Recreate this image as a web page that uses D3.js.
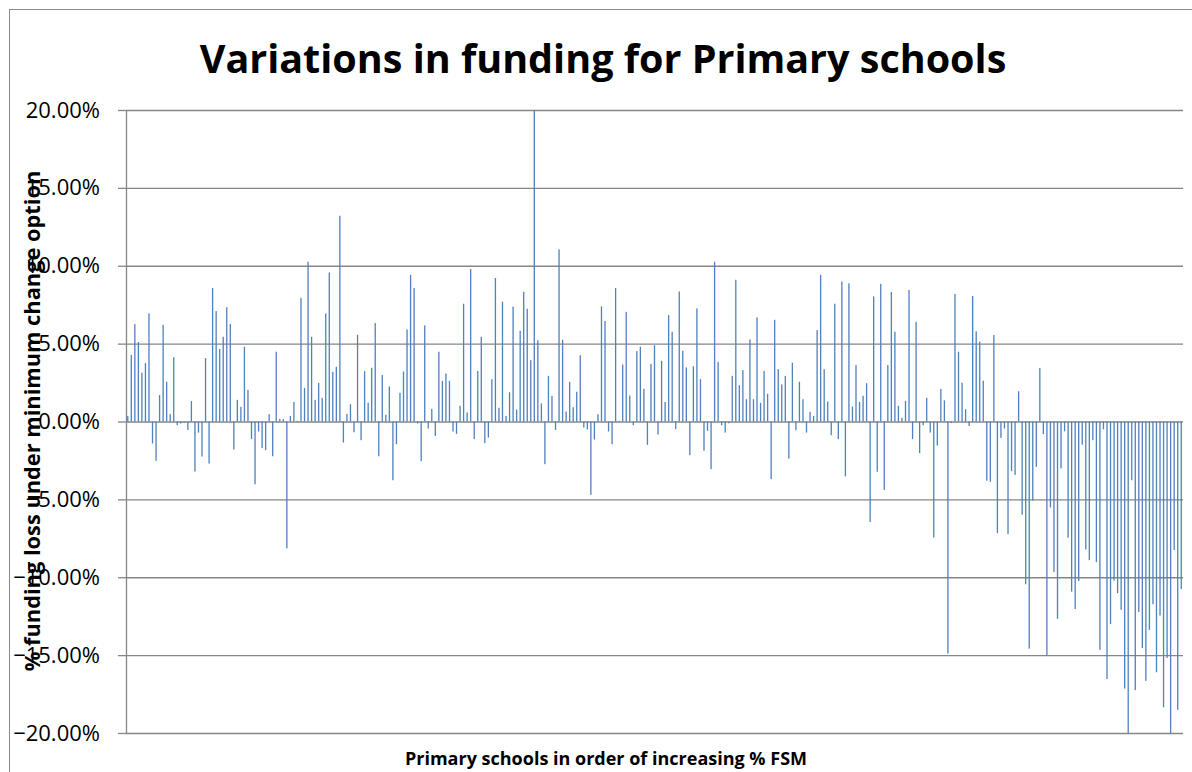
<!DOCTYPE html>
<html>
<head>
<meta charset="utf-8">
<script src="https://cdn.jsdelivr.net/npm/d3@7"></script>
<style>
    body { margin: 0; background: #fff; }
    svg { display: block; font-family: "Open Sans", "Noto Sans", sans-serif; }
</style>
</head>
<body>
<div id="chart"></div>
<script>
// chart text
var chartTitle = "Variations in funding for Primary schools"
var yTitle = "% funding loss under minimum change option"
var xTitle = "Primary schools in order of increasing % FSM"

// y axis ticks (percent)
var yTicks = [20, 15, 10, 5, 0, -5, -10, -15, -20]

// % funding change per school, schools in order of increasing % FSM
var funding = [
    0.36, 4.28, 6.25, 5.10, 3.13, 3.75, 6.94, -1.41, -2.53, 1.69,
    6.21, 2.55, 0.47, 4.13, -0.24, -0.13, -0.05, -0.54, 1.31, -3.21,
    -0.71, -2.25, 4.07, -2.70, 8.57, 7.09, 4.65, 5.44, 7.34, 6.27,
    -1.80, 1.39, 0.94, 4.80, 2.03, -1.13, -4.03, -0.64, -1.71, -1.84,
    0.47, -2.23, 4.48, 0.17, 0.15, -8.14, 0.36, 1.26, 0.05, 7.94,
    2.16, 10.26, 5.44, 1.39, 2.48, 1.52, 6.94, 9.57, 3.19, 3.51,
    13.21, -1.35, 0.49, 1.11, -0.69, 5.57, -1.20, 3.23, 1.20, 3.45,
    6.32, -2.23, 2.98, 0.43, 2.25, -3.77, -1.46, 1.84, 3.21, 5.91,
    9.42, 8.57, -0.13, -2.55, 6.17, -0.45, 0.81, -0.92, 4.48, 2.61,
    3.08, 2.61, -0.64, -0.79, 1.01, 7.56, 0.58, 9.79, -1.13, 3.25,
    5.44, -1.39, -1.03, 2.72, 9.21, 0.88, 7.69, 0.36, 1.88, 7.37,
    0.77, 5.82, 8.33, 7.24, 3.94, 20.00, 5.22, 1.16, -2.74, 2.93,
    1.65, -0.54, 11.05, 5.25, 0.64, 2.55, 0.92, 1.91, 4.26, -0.39,
    -0.51, -4.71, -1.16, 0.47, 7.39, 6.45, -0.64, -1.46, 8.57, 0.05,
    3.66, 7.04, 1.67, -0.24, 4.52, 4.80, 2.10, -1.50, 3.70, 4.90,
    -0.84, 3.90, 1.26, 6.83, 5.76, -0.49, 8.35, 4.54, 3.47, -2.16,
    3.55, 7.26, 2.72, -1.88, -0.60, -3.06, 10.26, 3.83, -0.24, -0.71,
    -0.11, 2.93, 9.10, 2.33, 3.30, 1.43, 5.27, 1.43, 6.68, 1.20,
    3.25, 1.78, -3.70, 6.53, 3.36, 2.38, 2.93, -2.38, 3.77, -0.56,
    2.55, 1.43, -0.71, 0.62, 0.36, 5.87, 9.42, 3.36, 1.28, -0.88,
    7.56, -1.13, 8.99, -3.53, 8.87, 0.96, 3.62, 1.26, 1.65, 2.46,
    -6.45, 8.03, -3.23, 8.84, -4.39, 3.62, 8.31, 5.76, 1.01, 0.24,
    1.33, 8.44, -1.13, 6.40, -2.03, -0.24, 1.52, -0.71, -7.45, -1.54,
    2.09, 1.36, -14.90, -0.10, 8.19, 4.48, 2.49, 0.79, -0.29, 8.06,
    5.79, 5.13, 2.62, -3.80, -3.87, 5.55, -7.17, -1.05, -0.45, -7.23,
    -3.19, -3.43, 1.94, -5.99, -10.45, -14.58, -5.08, -2.91, 3.43, -0.81,
    -15.00, -5.52, -9.66, -12.67, -3.01, -0.63, -7.46, -10.92, -12.04, -10.24,
    -1.49, -8.22, -8.90, -1.20, -9.03, -14.66, -0.50, -16.54, -13.01, -10.21,
    -11.02, -12.09, -17.15, -20.00, -3.77, -17.25, -12.23, -14.55, -16.65, -13.38,
    -11.73, -16.10, -12.46, -18.35, -15.18, -20.00, -8.25, -18.51, -10.76
]

// schools are just ranks 1..n
var schools = d3.range(1, funding.length + 1)

var width = 1192, height = 772
var margin = {left: 126, right: 9, top: 110, bottom: 39}

var svg = d3.select('#chart').append('svg')
    .attr('width', width).attr('height', height)

// chart area border (runs off the right and bottom edges)
svg.append('rect')
    .attr('x', 9.5).attr('y', 9.5)
    .attr('width', width + 20).attr('height', height + 20)
    .attr('fill', '#fff').attr('stroke', '#8c8c8c').attr('stroke-width', 1)

var x = d3.scaleBand()
    .domain(schools)
    .range([margin.left, width - margin.right])
    .padding(0)

var y = d3.scaleLinear()
    .domain([-20, 20])
    .range([height - margin.bottom, margin.top])

var fmt = function (d) { return d3.format('.2f')(d) + '%' }

// gridlines
var grid = svg.append('g')
    .attr('transform', 'translate(' + margin.left + ',0)')
    .call(d3.axisLeft(y).tickValues(yTicks).tickSize(-(width - margin.right - margin.left)).tickFormat(''))
grid.select('.domain').remove()
grid.selectAll('line').attr('stroke', '#868686').attr('stroke-width', 1.3)

// axis with small outside ticks and labels
var yAxis = svg.append('g')
    .attr('transform', 'translate(' + margin.left + ',0)')
    .call(d3.axisLeft(y).tickValues(yTicks).tickSize(8).tickSizeOuter(0).tickPadding(18).tickFormat(fmt))
yAxis.select('.domain').attr('stroke', '#868686').attr('stroke-width', 1.3)
yAxis.selectAll('line').attr('stroke', '#868686').attr('stroke-width', 1.3)
yAxis.selectAll('text')
    .attr('fill', '#000')
    .style('font-size', '22px')
    .style('font-family', '"Open Sans", sans-serif')

// bars
var barW = 1.3
svg.append('g').selectAll('rect')
    .data(funding)
    .enter().append('rect')
    .attr('x', function (d, i) { return x(schools[i]) + x.bandwidth() / 2 - barW / 2 })
    .attr('y', function (d) { return y(Math.max(0, d)) })
    .attr('width', barW)
    .attr('height', function (d) { return Math.abs(y(d) - y(0)) })
    .attr('fill', '#4f81bd')

// title
svg.append('text')
    .attr('x', 603).attr('y', 73)
    .attr('text-anchor', 'middle')
    .style('font-size', '39.5px').style('font-weight', 'bold')
    .text(chartTitle)

// y title (sits over the tick labels, as in the original)
svg.append('text')
    .attr('transform', 'translate(40,421) rotate(-90)')
    .attr('text-anchor', 'middle')
    .style('font-size', '21.8px').style('font-weight', 'bold')
    .text(yTitle)

// x title
svg.append('text')
    .attr('x', 606).attr('y', 765)
    .attr('text-anchor', 'middle')
    .style('font-size', '18px').style('font-weight', 'bold')
    .text(xTitle)
</script>
</body>
</html>
